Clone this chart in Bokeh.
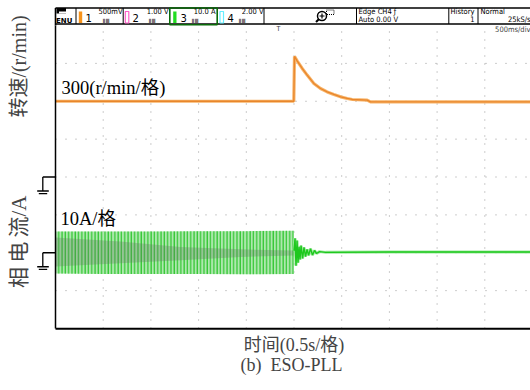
import math
from bokeh.plotting import figure
from bokeh.models import Range1d, Label
from bokeh.core.properties import value
from bokeh.embed import file_html
from bokeh.resources import INLINE

# ---------------- data ----------------
# time axis: 0.5 s per division
grid_time = [0.5, 1.0, 1.5, 2.0, 2.5, 3.0, 3.5, 4.0, 4.5]
# current axis (10 A/div), ground at 0 A, screen spans -20..60 A
grid_current = [-10, 0, 10, 20, 30, 40, 50]

# speed channel, r/min (300 r/min per div, ground level = 0 r/min)
speed_t = [0.0, 2.498, 2.505, 2.533, 2.586, 2.638, 2.708, 2.778, 2.848, 2.918,
           2.988, 3.058, 3.110, 3.267, 3.302, 4.0, 4.98]
speed_v = [600, 600, 955, 920, 860, 807, 741, 701, 674, 654,
           635, 622, 614, 609, 595, 595, 595]

# phase current before the step: outer envelope (A)
cur_env_t = [0.0, 0.5, 1.0, 1.5, 2.0, 2.497]
cur_env_hi = [5.6, 5.6, 5.6, 5.7, 5.7, 5.8]
cur_env_lo = [-5.5, -5.6, -5.6, -5.6, -5.7, -5.6]
# dark (dense) core of the current trace (A)
cur_core_t = [0.0, 0.68, 1.31, 1.94, 2.497]
cur_core_hi = [4.0, 3.0, 1.5, 0.9, 0.6]
cur_core_lo = [-3.6, -2.8, -2.0, -1.1, -0.7]
# current after the step (A)
cur_t = [2.497, 2.500, 2.511, 2.521, 2.532, 2.542, 2.553, 2.563, 2.574, 2.590,
         2.605, 2.621, 2.637, 2.653, 2.673, 2.694, 2.715, 2.736, 2.768, 2.831,
         3.5, 4.2, 4.98]
cur_v = [0.6, 0.6, 3.8, -3.4, 3.2, -2.6, 1.6, -1.8, 1.9, -1.5,
         1.4, -1.0, 0.9, -0.7, 1.1, -0.6, 0.6, -0.2, 0.3, 0.1,
         0.2, 0.2, 0.2]

speed_ground = 0      # r/min
current_ground = 0    # A

# ---------------- layout constants ----------------
W, H = 530, 390
LEFT_PX = 55          # scope screen left edge (px)
TOP_PX = 25           # scope screen top edge (px)
BOTTOM_PX = 62        # space below scope screen (px)
PX_PER_S = 95.4       # 47.7 px per 0.5 s division
A_MIN, A_MAX = -20, 60
PX_PER_A = (H - TOP_PX - BOTTOM_PX) / (A_MAX - A_MIN)
X0 = -LEFT_PX / PX_PER_S
X1 = (W - LEFT_PX) / PX_PER_S
Y0 = A_MIN - BOTTOM_PX / PX_PER_A
Y1 = A_MAX + TOP_PX / PX_PER_A
A_PER_RPM = 10 / 300          # 10 A/div vs 300 r/min/div
SPD_ZERO_A = 20               # speed ground marker sits at +2 div

def dx(px):
    return px / PX_PER_S

def dy(px):
    return px / PX_PER_A

def spd_to_a(s):
    return SPD_ZERO_A + s * A_PER_RPM

# header bar helpers: page-pixel x, and height above the screen top edge
def HX(vals):
    return [X0 + v / PX_PER_S for v in vals]

def HY(vals):
    return [A_MAX + v / PX_PER_A for v in vals]

SERIF = "'Liberation Serif', 'Noto Sans CJK SC'"
NARROW = "'Liberation Sans Narrow', 'DejaVu Sans Condensed', 'Liberation Sans'"

p = figure(width=W, height=H, x_range=Range1d(X0, X1), y_range=Range1d(Y0, Y1),
           output_backend="svg", toolbar_location=None,
           x_axis_location=None, y_axis_location=None,
           min_border=0, min_border_left=0, min_border_right=0,
           min_border_top=0, min_border_bottom=0)
p.extra_y_ranges = {"speed": Range1d((Y0 - SPD_ZERO_A) / A_PER_RPM,
                                     (Y1 - SPD_ZERO_A) / A_PER_RPM)}
p.grid.visible = False
p.outline_line_color = None
p.background_fill_color = "white"
p.border_fill_color = "white"

# dotted graticule
nt, nc = len(grid_time), len(grid_current)
p.segment(x0=grid_time, y0=[A_MIN] * nt, x1=grid_time, y1=[A_MAX] * nt,
          line_color="#9a9a9a", line_width=1, line_dash="1 7")
p.segment(x0=[0] * nc, y0=grid_current, x1=[X1] * nc, y1=grid_current,
          line_color="#9a9a9a", line_width=1, line_dash="1 9")

# current trace
p.varea(x=cur_env_t, y1=cur_env_lo, y2=cur_env_hi, fill_color="#aee8ae",
        fill_alpha=1.0, hatch_pattern="vertical_line", hatch_color="#22c222",
        hatch_weight=1.3, hatch_scale=3.3, hatch_alpha=0.85)
p.varea(x=cur_core_t, y1=cur_core_lo, y2=cur_core_hi, fill_color="#5f735f",
        fill_alpha=0.3)
p.line(cur_t, cur_v, line_color="#9be89b", line_width=3)
p.line(cur_t, cur_v, line_color="#1ec81e", line_width=1.4)

# speed trace
p.line(speed_t, speed_v, y_range_name="speed", line_color="#f8b468", line_width=3.2)
p.line(speed_t, speed_v, y_range_name="speed", line_color="#e8862c", line_width=1.3)

# screen border (left and bottom)
p.segment(x0=[0], y0=[A_MIN], x1=[0], y1=[A_MAX], line_color="black", line_width=1.5)
p.segment(x0=[0], y0=[A_MIN - dy(0.3)], x1=[X1], y1=[A_MIN - dy(0.3)],
          line_color="black", line_width=2)

# ground markers of channel 1 (speed) and channel 3 (current)
gx0, gy0, gx1, gy1 = [], [], [], []
for g in (spd_to_a(speed_ground), current_ground):
    for (a, b), (c, d) in (((-12.7, 0), (0, 0)), ((-12.7, 0), (-12.7, -14)),
                           ((-18.3, -14), (-6.7, -14)), ((-16.7, -16.7), (-8.3, -16.7))):
        gx0.append(dx(a)); gy0.append(g + dy(b)); gx1.append(dx(c)); gy1.append(g + dy(d))
p.segment(x0=gx0, y0=gy0, x1=gx1, y1=gy1, line_color="black", line_width=1.3)

# in-screen texts
p.add_layout(Label(x=dx(6), y=spd_to_a(600) + dy(13), text="300(r/min/格)",
                   text_font=SERIF, text_font_size="18.5px", text_color="black",
                   text_baseline="alphabetic"))
p.add_layout(Label(x=dx(5), y=dy(34), text="10A/格",
                   text_font=SERIF, text_font_size="18.5px", text_color="black",
                   text_baseline="alphabetic"))
p.add_layout(Label(x=X1, y=A_MAX - dy(3.5), text="500ms/div",
                   text_font=NARROW, text_font_size="7.5px", text_align="right",
                   text_baseline="middle"))
p.add_layout(Label(x=dx(223), y=A_MAX - dy(3), text="T",
                   text_font=NARROW, text_font_size="7px", text_align="center",
                   text_baseline="middle"))

# outside labels
p.add_layout(Label(x=dx(-37), y=spd_to_a(speed_ground) + dy(110.5), text="转速/(r/min)",
                   angle=math.pi / 2, text_font=SERIF, text_font_size="20px",
                   text_align="center", text_baseline="middle"))
p.add_layout(Label(x=dx(-37), y=current_ground + dy(11), text="相\u2009电\u2009流/A",
                   angle=math.pi / 2, text_font=SERIF, text_font_size="21px",
                   text_align="center", text_baseline="middle"))
p.add_layout(Label(x=dx(238.5), y=A_MIN - dy(16.5), text="时间(0.5s/格)",
                   text_font=SERIF, text_font_size="18px",
                   text_align="center", text_baseline="middle"))
p.add_layout(Label(x=dx(236), y=A_MIN - dy(36), text="(b)\u00a0\u00a0ESO-PLL",
                   text_font=SERIF, text_font_size="18px",
                   text_align="center", text_baseline="middle"))

# ---------------- scope header bar ----------------
p.segment(x0=HX([55, 55, 55]), y0=HY([17.5, 1.5, 0]), x1=HX([W, W, 55]),
          y1=HY([17.5, 1.5, 17.5]), line_color="black", line_width=1.6)
dividers = [75.5, 122.7, 263.5, 356, 448.3, 477.5]
p.segment(x0=HX(dividers), y0=HY([1.5] * 6), x1=HX(dividers), y1=HY([17.5] * 6),
          line_color="black", line_width=1)
# ENU icon
p.quad(left=HX([56]), right=HX([65.5]), bottom=HY([12]), top=HY([17.5]),
       fill_color="black", line_color=None)
p.quad(left=HX([58.5]), right=HX([65.5]), bottom=HY([12]), top=HY([14]),
       fill_color="white", line_color=None)
p.text(x=HX([55.5]), y=HY([5]), text=["ENU"], text_font=value("DejaVu Sans"),
       text_font_size="7px", text_font_style="bold", text_baseline="middle",
       text_align="left")
# channel colour tags
p.quad(left=HX([78.3, 172.7]), right=HX([81.7, 176]), bottom=HY([2.5, 2.5]),
       top=HY([14, 14]), fill_color=["#f7941d", "#22dd22"], line_color=None)
p.quad(left=HX([124.8, 219.5]), right=HX([128.3, 223]), bottom=HY([2.5, 2.5]),
       top=HY([14, 14]), fill_color=None, line_color=["#ff5fc8", "#66eeff"],
       line_width=1.2)
p.quad(left=HX([169.3]), right=HX([216.7]), bottom=HY([0.7]), top=HY([17.5]),
       fill_color=None, line_color="#0a6a0a", line_width=1.6)
p.text(x=HX([85, 132, 180, 227]), y=HY([7.5] * 4), text=["1", "2", "3", "4"],
       text_font=value("DejaVu Sans"), text_font_size="10px", text_baseline="middle",
       text_align="left")
p.text(x=HX([122, 168, 215, 263]), y=HY([14] * 4),
       text=["500mV", "1.00 V", "10.0 A", "2.00 V"],
       text_font=value(NARROW), text_font_size="7.5px", text_baseline="middle",
       text_align="right")
p.text(x=HX([102, 148, 191, 238]), y=HY([5.5] * 4), text=["ⅡⅢ", "ⅡⅢ", "ⅡⅢ", "ⅡⅢ"],
       text_font=value("DejaVu Sans"), text_font_size="6px", text_baseline="middle",
       text_align="left")
# zoom icon
p.scatter(x=HX([321.5]), y=HY([9.5]), marker="circle", size=9, fill_color=None,
          line_color="black", line_width=1.5)
p.scatter(x=HX([321.5]), y=HY([9.5]), marker="cross", size=5, line_color="black",
          line_width=1.2)
p.segment(x0=HX([318.3]), y0=HY([6.3]), x1=HX([315.5]), y1=HY([3.5]),
          line_color="black", line_width=2)
p.quad(left=HX([326]), right=HX([333.5]), bottom=HY([11]), top=HY([15.5]),
       fill_color=None, line_color="black", line_width=1, line_dash="1 1")
# trigger / acquisition fields
p.text(x=HX([358, 358, 450, 480]), y=HY([14, 6.5, 14, 14]),
       text=["Edge CH4 ƒ", "Auto 0.00 V", "History", "Normal"],
       text_font=value(NARROW), text_font_size="7.5px", text_baseline="middle",
       text_align="left")
p.text(x=HX([474, 530]), y=HY([6.5, 6.5]), text=["1", "25kS/s"],
       text_font=value(NARROW), text_font_size="7.5px", text_baseline="middle",
       text_align="right")

open("out.html", "w").write(file_html(p, INLINE))
